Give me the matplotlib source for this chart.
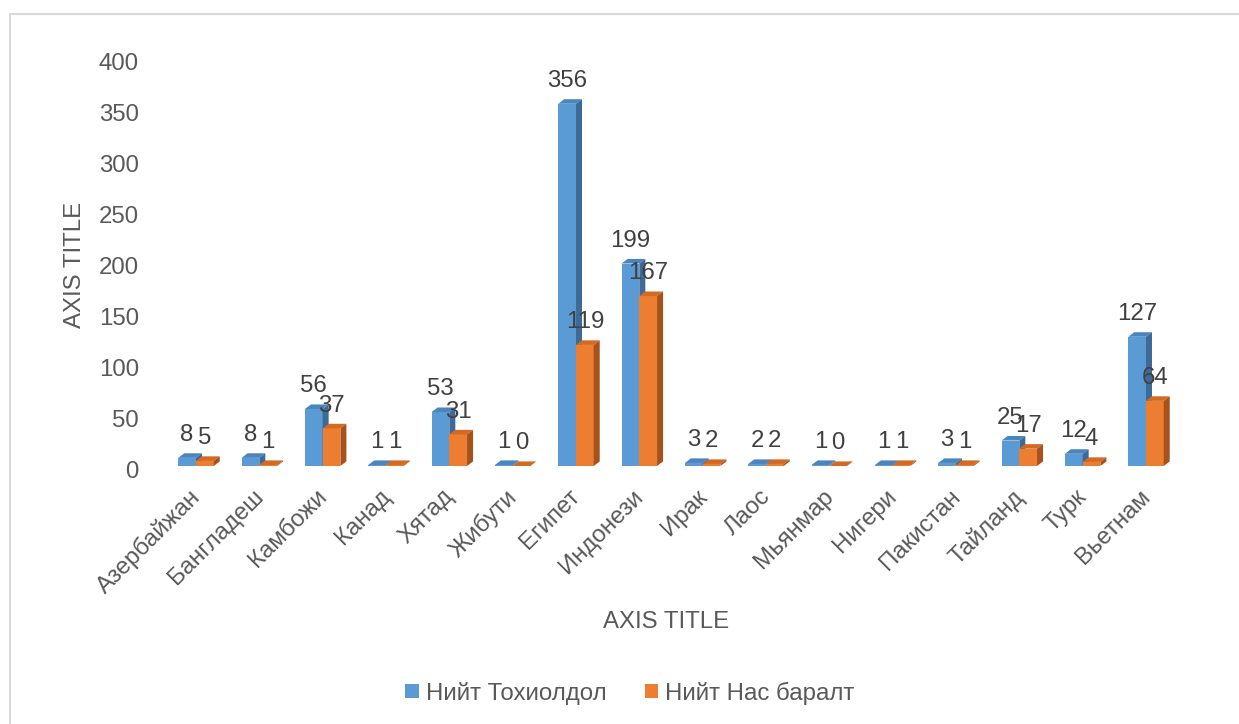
import matplotlib
matplotlib.use("Agg")
import matplotlib.pyplot as plt
from matplotlib.patches import Polygon, Patch, Rectangle
from matplotlib.transforms import ScaledTranslation
import numpy as np

plt.rcParams['font.family'] = ['Liberation Sans', 'DejaVu Sans']

categories = ['Азербайжан', 'Бангладеш', 'Камбожи', 'Канад', 'Хятад', 'Жибути',
              'Египет', 'Индонези', 'Ирак', 'Лаос', 'Мьянмар', 'Нигери',
              'Пакистан', 'Тайланд', 'Турк', 'Вьетнам']
total_cases = [8, 8, 56, 1, 53, 1, 356, 199, 3, 2, 1, 1, 3, 25, 12, 127]
total_deaths = [5, 1, 37, 1, 31, 0, 119, 167, 2, 2, 0, 1, 1, 17, 4, 64]
series_names = ['Нийт Тохиолдол', 'Нийт Нас баралт']
y_ticks = [0, 50, 100, 150, 200, 250, 300, 350, 400]

BLUE = ('#5B9BD5', '#4A85BF', '#3D6A96')    # front, top, side
ORANGE = ('#ED7D31', '#D46A22', '#A5521C')
TEXT = '#595959'
LABEL = '#404040'
FS = 17.3

W, H = 1239, 724
fig = plt.figure(figsize=(W / 100, H / 100), dpi=100)
ax = fig.add_axes([150 / W, (H - 466) / H, 1050 / W, 407 / H])

x = np.arange(len(categories))
bw = 0.28
DX, DY = 0.095, 4.5  # depth of the pseudo-3D bars (data units)


def draw_3d(xs, vals, colors, z):
    bars = ax.bar(xs, vals, width=bw, align='edge', color=colors[0],
                  linewidth=0, zorder=z)
    for b, v in zip(bars, vals):
        x0 = b.get_x()
        w = b.get_width()
        top = [(x0, v), (x0 + w, v), (x0 + w + DX, v + DY), (x0 + DX, v + DY)]
        side = [(x0 + w, 0), (x0 + w + DX, DY), (x0 + w + DX, v + DY), (x0 + w, v)]
        ax.add_patch(Polygon(top, closed=True, facecolor=colors[1],
                             edgecolor='none', zorder=z, clip_on=False))
        ax.add_patch(Polygon(side, closed=True, facecolor=colors[2],
                             edgecolor='none', zorder=z, clip_on=False))
    return bars


draw_3d(x - bw, total_cases, BLUE, 2)
draw_3d(x, total_deaths, ORANGE, 3)

for xi, v in zip(x - bw / 2, total_cases):
    ax.annotate(str(v), (xi, v), xytext=(0, 8.5), textcoords='offset points',
                ha='center', va='bottom', fontsize=FS, color=LABEL,
                zorder=5, annotation_clip=False)
for xi, v in zip(x + bw / 2, total_deaths):
    ax.annotate(str(v), (xi, v), xytext=(0, 8.5), textcoords='offset points',
                ha='center', va='bottom', fontsize=FS, color=LABEL,
                zorder=5, annotation_clip=False)

ax.set_xlim(-0.726, 15.853)
ax.set_ylim(0, 400)
ax.set_yticks(y_ticks)
ax.set_yticklabels([str(t) for t in y_ticks], fontsize=FS, color=TEXT)
ax.set_xticks(x)
ax.set_xticklabels(categories, fontsize=FS, color=TEXT, rotation=45,
                   ha='right', va='top', rotation_mode='anchor')
ax.tick_params(axis='both', length=0)
ax.tick_params(axis='y', pad=8)
ax.tick_params(axis='x', pad=14)
for s in ax.spines.values():
    s.set_visible(False)
ax.set_facecolor('none')

shift_x = ScaledTranslation(-0.07, 0, fig.dpi_scale_trans)
for lab in ax.get_xticklabels():
    lab.set_transform(lab.get_transform() + shift_x)
shift_y = ScaledTranslation(0, -0.03, fig.dpi_scale_trans)
for lab in ax.get_yticklabels():
    lab.set_transform(lab.get_transform() + shift_y)

fig.text(75 / W, (H - 265) / H, 'AXIS TITLE', rotation=90, ha='center',
         va='center', fontsize=FS, color=TEXT)
fig.text(666 / W, (H - 622) / H, 'AXIS TITLE', ha='center', va='center',
         fontsize=FS, color=TEXT)

handles = [Patch(facecolor=BLUE[0], edgecolor='none'),
           Patch(facecolor=ORANGE[0], edgecolor='none')]
fig.legend(handles, series_names, loc='center', bbox_to_anchor=(630 / W, (H - 693) / H),
           ncol=2, frameon=False, fontsize=FS, labelcolor=TEXT,
           handlelength=0.55, handleheight=0.55, handletextpad=0.3,
           columnspacing=1.6)

fig.patches.append(Rectangle((9.5 / W, -0.1), 1.2, (H - 13.5) / H + 0.1,
                             transform=fig.transFigure, fill=False,
                             edgecolor='#D9D9D9', linewidth=1.5, zorder=0))

fig.savefig('out.png', dpi=100, facecolor='white')
